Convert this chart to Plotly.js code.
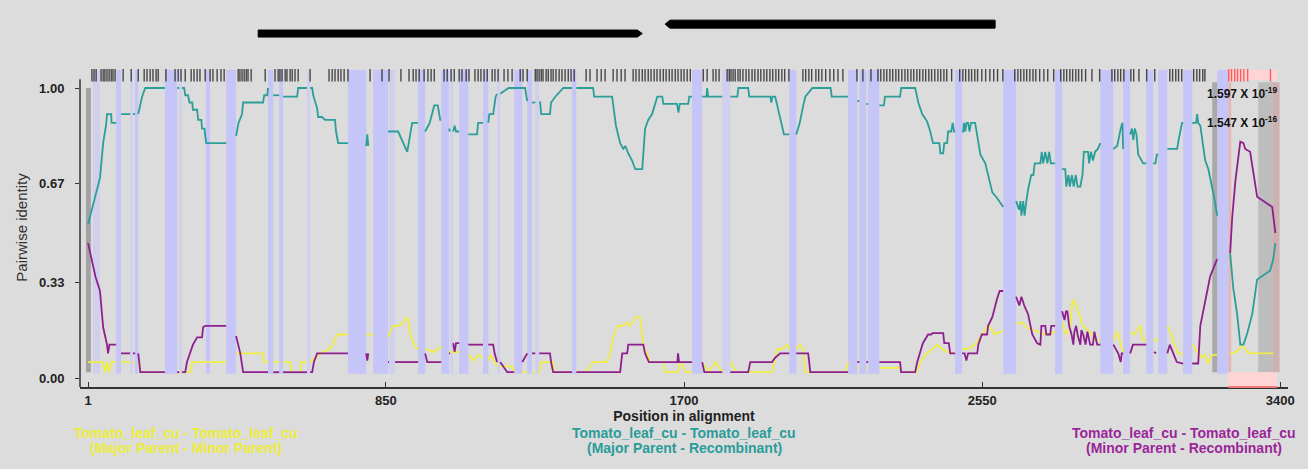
<!DOCTYPE html>
<html><head><meta charset="utf-8">
<script src="https://cdn.plot.ly/plotly-3.0.1.min.js"></script>
<style>html,body{margin:0;padding:0;background:#dcdcdc;} #chart{width:1308px;height:469px;}</style>
</head><body><div id="chart"></div>
<script>
// ---------- DATA ----------
const xTickVals = [1, 850, 1700, 2550, 3400];
const xTickText = ['1', '850', '1700', '2550', '3400'];
const yTickVals = [0, 0.33, 0.67, 1];
const yTickText = ['0.00', '0.33', '0.67', '1.00'];

const seriesNames = [
  'Tomato_leaf_cu - Tomato_leaf_cu (Major Parent - Minor Parent)',
  'Tomato_leaf_cu - Tomato_leaf_cu (Major Parent - Recombinant)',
  'Tomato_leaf_cu - Tomato_leaf_cu (Minor Parent - Recombinant)'
];

// Major Parent - Minor Parent (yellow)
const majorMinor = [[1,0.055],[44,0.055],[50,0.02],[55,0.055],[60,0.02],[67,0.055],[81,0.055],null,
[95,0.055],[121,0.055],null,[129,0.055],[135,0.055],null,[144,0.055],[150,0.02],[220,0.02],null,
[255,0.02],[261,0.02],null,[269,0.02],[292,0.02],[298,0.055],[395,0.055],null,
[423,0.085],[500,0.085],[503,0.055],[514,0.055],null,
[529,0.055],[546,0.055],null,[557,0.055],[577,0.055],[580,0.02],[605,0.02],[608,0.055],[625,0.055],null,[634,0.055],[663,0.085],[690,0.10],[700,0.12],[711,0.15],[742,0.15],null,
[794,0.15],[814,0.15],null,[856,0.14],[870,0.18],[885,0.18],[900,0.19],[911,0.21],[920,0.15],[932,0.11],[942,0.10],null,
[962,0.10],[985,0.09],[1000,0.10],[1008,0.11],null,
[1030,0.09],[1059,0.09],null,[1085,0.08],[1100,0.06],[1113,0.08],[1127,0.07],null,[1142,0.06],[1150,0.08],[1167,0.04],null,[1176,0.04],[1210,0.04],[1216,0.02],null,
[1239,0.02],[1253,0.02],null,[1267,0.02],[1276,0.02],null,[1287,0.02],[1293,0.055],[1327,0.055],[1330,0.02],[1381,0.02],null,
[1393,0.02],[1420,0.02],[1441,0.055],[1480,0.055],[1489,0.085],[1498,0.14],[1509,0.18],[1524,0.18],[1538,0.19],[1546,0.18],[1561,0.21],[1575,0.21],[1584,0.11],[1595,0.085],[1604,0.055],[1641,0.055],[1644,0.02],[1681,0.02],[1690,0.055],[1705,0.02],[1723,0.02],null,
[1752,0.055],[1770,0.02],[1790,0.055],[1809,0.02],null,[1832,0.055],[1850,0.02],[1951,0.02],[1965,0.10],[1980,0.10],[1994,0.115],[2000,0.10],null,
[2020,0.10],[2031,0.115],[2040,0.10],[2046,0.02],[2160,0.02],[2168,0.055],null,
[2194,0.035],[2200,0.035],null,[2220,0.035],[2225,0.035],null,
[2257,0.035],[2316,0.035],[2319,0.02],[2364,0.02],[2373,0.055],[2393,0.085],[2408,0.10],[2422,0.115],[2436,0.10],[2450,0.09],[2473,0.085],null,
[2493,0.10],[2510,0.10],[2530,0.115],[2539,0.13],[2549,0.15],[2567,0.18],[2576,0.17],[2585,0.15],[2600,0.16],[2610,0.16],null,
[2647,0.19],[2665,0.19],[2673,0.18],[2690,0.165],[2710,0.16],[2730,0.15],[2758,0.16],null,
[2778,0.19],[2790,0.15],[2800,0.17],[2808,0.27],[2818,0.25],[2827,0.22],[2836,0.18],[2856,0.16],[2875,0.13],[2887,0.13],null,
[2924,0.13],[2935,0.16],[2940,0.14],[2952,0.09],null,[2972,0.16],[2985,0.15],[3000,0.18],[3010,0.13],[3018,0.13],null,[3038,0.13],[3052,0.13],null,[3078,0.18],[3090,0.15],[3105,0.09],[3123,0.08],null,
[3149,0.115],[3166,0.09],[3177,0.07],[3186,0.08],[3194,0.05],[3206,0.08],[3220,0.08],null,
[3257,0.085],[3275,0.09],[3292,0.115],[3306,0.09],[3320,0.085],[3380,0.085]];

// Major Parent - Recombinant (teal)
const majorRecomb = [[1,0.53],[27,0.66],[35,0.69],[44,0.81],[52,0.87],[55,0.91],[67,0.91],[68,0.88],[81,0.88],null,
[95,0.91],[121,0.91],null,[129,0.91],[135,0.91],null,[144,0.91],[149,0.935],[155,0.97],[164,1.0],[220,1.0],null,
[255,1.0],[261,1.0],null,[269,1.0],[275,1.0],[278,0.975],[286,0.975],[290,0.95],[298,0.95],[300,0.925],[312,0.925],[315,0.89],[324,0.89],[326,0.86],[333,0.86],[335,0.835],[338,0.81],[395,0.81],null,
[423,0.835],[430,0.88],[440,0.91],[443,0.95],[500,0.95],[503,0.975],[512,0.975],[514,1.0],null,
[529,0.975],[546,0.975],null,[557,0.97],[597,0.97],[600,1.0],[625,1.0],null,[634,1.0],[640,1.0],[643,0.975],[648,0.95],[654,0.93],[657,0.90],[668,0.90],[677,0.89],[705,0.89],[708,0.85],[714,0.81],[742,0.81],null,
[794,0.80],[797,0.84],[800,0.80],null,
[856,0.85],[885,0.85],[911,0.78],[925,0.88],[942,0.88],null,
[962,0.85],[975,0.88],[988,0.94],[998,0.94],[1005,0.89],[1008,0.89],null,
[1030,0.86],[1033,0.85],null,[1042,0.85],[1046,0.87],[1050,0.85],[1059,0.85],null,
[1085,0.84],[1110,0.84],[1113,0.88],[1127,0.88],null,[1142,0.88],[1145,0.91],[1156,0.91],[1163,0.97],[1167,0.98],null,[1176,0.98],[1200,1.0],[1247,1.0],[1253,0.955],null,[1267,0.95],[1276,0.95],null,[1287,0.95],[1290,0.95],[1293,0.91],[1318,0.91],[1321,0.95],[1333,0.97],[1356,1.0],[1381,1.0],null,
[1393,1.0],[1441,1.0],[1444,0.97],[1495,0.97],[1500,0.925],[1506,0.87],[1518,0.81],[1527,0.79],[1533,0.80],[1541,0.775],[1552,0.75],[1561,0.72],[1581,0.72],[1589,0.86],[1598,0.89],[1609,0.91],[1624,0.97],[1638,0.97],[1641,0.945],[1680,0.945],[1684,0.915],[1688,0.945],[1712,0.945],[1715,0.97],[1723,0.97],null,
[1752,0.97],[1764,0.97],[1766,1.0],[1769,0.97],[1809,0.97],null,[1832,0.97],[1852,0.97],[1855,1.0],[1883,1.0],[1886,0.97],[1946,0.97],[1949,0.95],[1952,0.97],[1960,0.97],[1968,0.925],[1975,0.89],[1985,0.84],[2000,0.84],null,
[2020,0.84],[2030,0.88],[2040,0.94],[2046,0.97],[2066,1.0],[2118,1.0],[2121,0.97],[2168,0.97],null,
[2194,0.955],[2200,0.955],null,[2220,0.945],[2225,0.945],null,
[2257,0.94],[2270,0.94],[2273,0.97],[2316,0.97],[2319,1.0],[2359,1.0],[2368,0.95],[2379,0.91],[2393,0.885],[2402,0.85],[2410,0.81],[2428,0.81],[2431,0.775],[2439,0.775],[2442,0.81],[2450,0.81],[2453,0.85],[2462,0.85],[2466,0.88],[2470,0.85],[2473,0.85],null,
[2493,0.85],[2496,0.85],[2498,0.88],[2502,0.85],[2505,0.88],[2510,0.88],[2514,0.85],[2518,0.88],[2530,0.88],[2536,0.83],[2545,0.77],[2559,0.74],[2567,0.70],[2579,0.64],[2593,0.62],[2610,0.59],null,
[2647,0.61],[2655,0.58],[2659,0.61],[2662,0.56],[2667,0.61],[2671,0.56],[2676,0.61],[2681,0.65],[2690,0.70],[2696,0.70],[2700,0.74],[2716,0.74],[2720,0.78],[2724,0.74],[2730,0.78],[2736,0.74],[2741,0.78],[2746,0.74],[2758,0.74],null,
[2778,0.72],[2787,0.72],[2790,0.66],[2796,0.70],[2800,0.66],[2806,0.70],[2811,0.66],[2817,0.70],[2822,0.66],[2830,0.66],[2836,0.70],[2840,0.78],[2852,0.78],[2855,0.74],[2860,0.78],[2866,0.75],[2872,0.78],[2880,0.79],[2887,0.81],null,
[2924,0.79],[2935,0.80],[2945,0.86],[2950,0.88],[2952,0.79],null,
[2972,0.84],[2977,0.86],[2981,0.82],[2985,0.86],[2990,0.84],[2995,0.77],[3000,0.76],[3009,0.74],[3018,0.74],null,
[3038,0.74],[3044,0.74],[3048,0.77],[3052,0.77],null,
[3078,0.79],[3106,0.79],[3110,0.82],[3120,0.88],[3123,0.88],null,
[3149,0.88],[3160,0.88],[3163,0.91],[3166,0.88],[3172,0.87],[3180,0.79],[3186,0.75],[3195,0.72],[3206,0.66],[3212,0.62],[3220,0.56],null,
[3257,0.43],[3266,0.31],[3277,0.22],[3286,0.115],[3295,0.115],[3306,0.155],[3320,0.22],[3329,0.29],[3334,0.34],[3371,0.37],[3380,0.41],[3386,0.465]];

// Minor Parent - Recombinant (purple)
const minorRecomb = [[1,0.465],[15,0.38],[22,0.35],[35,0.30],[44,0.175],[55,0.115],[58,0.085],[62,0.115],[81,0.115],null,
[95,0.085],[121,0.085],null,[129,0.085],[135,0.085],null,[144,0.085],[147,0.055],[150,0.02],[220,0.02],null,
[255,0.02],[261,0.02],null,[269,0.02],[278,0.02],[283,0.055],[292,0.085],[300,0.115],[312,0.14],[326,0.14],[329,0.175],[335,0.18],[395,0.18],null,
[423,0.145],[429,0.115],[435,0.085],[443,0.02],[514,0.02],null,
[529,0.02],[546,0.02],null,[557,0.02],[625,0.02],null,[634,0.02],[640,0.02],[645,0.055],[654,0.085],[742,0.085],null,
[794,0.085],[797,0.06],[800,0.085],null,
[856,0.055],[859,0.055],null,[876,0.055],[942,0.055],null,
[962,0.085],[968,0.055],[1008,0.055],null,
[1030,0.085],[1033,0.085],null,[1042,0.12],[1046,0.09],[1050,0.12],[1059,0.12],null,
[1085,0.115],[1127,0.115],null,[1142,0.115],[1156,0.115],[1160,0.085],[1167,0.055],null,[1176,0.055],[1196,0.02],[1216,0.02],null,
[1239,0.055],[1253,0.085],null,[1267,0.085],[1276,0.085],null,[1287,0.085],[1318,0.085],[1321,0.055],[1327,0.02],[1381,0.02],null,
[1393,0.02],[1518,0.02],[1521,0.055],[1524,0.085],[1538,0.085],[1541,0.115],[1584,0.115],[1589,0.085],[1600,0.055],[1681,0.055],[1683,0.085],[1686,0.055],[1723,0.055],null,
[1752,0.055],[1758,0.02],[1809,0.02],null,[1832,0.02],[1883,0.02],[1889,0.055],[1951,0.055],[1960,0.07],[1974,0.085],[2000,0.085],null,[2020,0.085],[2054,0.085],[2057,0.055],[2060,0.02],[2168,0.02],null,
[2194,0.055],[2200,0.055],null,[2220,0.055],[2225,0.055],null,
[2257,0.055],[2316,0.055],[2319,0.02],[2359,0.02],[2365,0.055],[2373,0.085],[2381,0.12],[2396,0.15],[2405,0.15],[2408,0.155],[2439,0.155],[2442,0.12],[2455,0.12],[2459,0.085],[2473,0.085],null,
[2493,0.085],[2500,0.085],[2505,0.06],[2510,0.085],[2536,0.085],[2539,0.115],[2549,0.15],[2564,0.15],[2567,0.18],[2579,0.21],[2593,0.275],[2600,0.30],[2610,0.30],null,
[2647,0.28],[2656,0.25],[2662,0.28],[2670,0.25],[2681,0.22],[2687,0.18],[2693,0.15],[2707,0.12],[2716,0.115],[2719,0.18],[2730,0.18],[2733,0.15],[2744,0.15],[2747,0.18],[2758,0.18],null,
[2778,0.23],[2785,0.20],[2789,0.23],[2793,0.23],[2798,0.18],[2805,0.15],[2810,0.115],[2813,0.16],[2818,0.18],[2822,0.15],[2830,0.115],[2833,0.165],[2838,0.15],[2845,0.115],[2850,0.16],[2858,0.115],[2866,0.115],[2870,0.16],[2878,0.115],[2887,0.115],null,
[2924,0.115],[2938,0.085],[2945,0.055],[2948,0.085],[2952,0.085],null,
[2972,0.085],[2980,0.115],[3018,0.115],null,
[3040,0.09],[3046,0.085],null,
[3078,0.085],[3085,0.115],[3095,0.085],[3105,0.055],[3123,0.05],null,
[3149,0.05],[3166,0.05],[3172,0.18],[3186,0.27],[3200,0.35],[3220,0.41],null,
[3257,0.43],[3263,0.555],[3272,0.68],[3280,0.76],[3286,0.815],[3295,0.81],[3300,0.79],[3314,0.78],[3334,0.625],[3377,0.59],[3386,0.50]];

// Highlighted (excluded) alignment regions
const bandStart = [15,81,121,135,220,261,337,395,514,546,625,742,814,859,942,1008,1033,1059,1127,1167,1216,1253,1276,1381,1723,1809,2000,2168,2200,2225,2473,2610,2758,2887,2952,3018,3052,3123,3220];
const bandEnd   = [35,95,129,144,255,269,349,423,529,557,634,794,856,876,962,1030,1042,1085,1142,1176,1239,1267,1287,1393,1752,1832,2020,2194,2220,2257,2493,2647,2778,2924,2972,3038,3078,3149,3252];
const bandFaint = [1,0,1,0,0,1,0,0,0,0,1,0,0,1,0,0,1,0,0,1,0,0,1,0,0,1,0,0,0,0,0,0,0,0,0,0,0,0,0];

// Informative sites (barcode)
const sitesOutside = [12,18,24,38,44,49,55,61,67,72,78,101,124,144,161,169,178,186,195,201,223,249,258,266,278,295,303,312,320,335,349,357,369,380,389,429,434,440,446,452,457,466,506,534,543,548,554,563,568,577,583,591,600,634,688,697,705,714,722,731,742,805,839,859,893,916,928,936,945,959,970,979,988,1016,1025,1036,1045,1059,1067,1079,1087,1104,1113,1121,1130,1139,1153,1161,1170,1187,1198,1210,1233,1241,1253,1276,1281,1287,1293,1298,1307,1313,1321,1327,1335,1344,1352,1361,1370,1378,1387,1421,1432,1452,1464,1475,1498,1509,1521,1532,1555,1563,1572,1581,1589,1598,1606,1615,1623,1632,1641,1649,1658,1666,1675,1683,1692,1700,1709,1718,1755,1766,1783,1791,1800,1823,1829,1834,1840,1846,1854,1860,1868,1877,1885,1894,1902,1911,1919,1928,1936,1945,1953,1962,1970,1979,1987,1999,2039,2047,2056,2064,2076,2084,2093,2104,2116,2127,2139,2153,2193,2210,2233,2253,2261,2270,2278,2287,2295,2304,2312,2321,2330,2338,2347,2355,2364,2372,2381,2389,2398,2406,2415,2424,2432,2441,2449,2463,2486,2495,2503,2512,2520,2529,2537,2549,2560,2572,2583,2594,2609,2643,2652,2660,2669,2677,2686,2695,2703,2714,2726,2737,2754,2774,2783,2791,2800,2808,2817,2825,2834,2845,2863,2885,2920,2928,2937,2945,2954,2974,2982,2997,3019,3042,3085,3093,3102,3110,3119,3153,3162,3170,3179,3185];
const sitesInside = [3253,3261,3270,3278,3287,3296,3307,3372];

// Recombination event
const eventStart = 3252, eventEnd = 3391;
const breakpointCols = [[-5, 9], [3206, 3220], [3337, 3377]];
const pValueLabels = ['1.597 X 10<sup>-19</sup>', '1.547 X 10<sup>-16</sup>'];
const pValueY = [0.983, 0.883];
const pValueX = 3185;

// Genome features (ORFs) above the plot
const orfStart = [486, 2587];
const orfEnd = [1581, 1646];

// ---------- BUILD ----------
function unpack(pairs) {
  const x = [], y = [];
  pairs.forEach(p => { if (p === null) { x.push(null); y.push(null); } else { x.push(p[0]); y.push(p[1]); } });
  return {x, y};
}
const colors = ['#eeee44', '#2b9e9a', '#8e1f8e'];
const seriesData = [majorMinor, majorRecomb, minorRecomb];
const traces = [];

traces.push({
  type: 'scatter', mode: 'markers', x: sitesOutside, y: sitesOutside.map(() => 1.044),
  marker: {symbol: 'line-ns-open', size: 9, color: 'rgba(35,35,35,0.8)', line: {width: 1.4, color: 'rgba(35,35,35,0.8)'}},
  hoverinfo: 'skip', showlegend: false
});
traces.push({
  type: 'scatter', mode: 'markers', x: sitesInside, y: sitesInside.map(() => 1.044),
  marker: {symbol: 'line-ns-open', size: 9, color: '#ff5c5c', line: {width: 1.4, color: '#ff5c5c'}},
  hoverinfo: 'skip', showlegend: false
});
[0, 2, 1].forEach(i => {
  const d = unpack(seriesData[i]);
  traces.push({type: 'scatter', mode: 'lines', x: d.x, y: d.y, name: seriesNames[i],
    line: {color: colors[i], width: 1.8}, connectgaps: false, showlegend: false});
});

const shapes = [];
for (let i = 0; i < bandStart.length; i++) {
  shapes.push({type: 'rect', layer: 'below', xref: 'x', yref: 'y', x0: bandStart[i], x1: bandEnd[i],
    y0: 0.015, y1: 1.062, line: {width: 0}, fillcolor: bandFaint[i] ? '#d0d0ee' : '#c5c5f7'});
}
const colFills = ['#a2a2a2', '#a9a9a9', '#bdbdbd'];
breakpointCols.forEach((c, i) => {
  shapes.push({type: 'rect', layer: 'below', xref: 'x', yref: 'y', x0: c[0], x1: c[1],
    y0: 0.02, y1: i === 0 ? 1.0 : 1.02, line: {width: 0}, fillcolor: colFills[i]});
});
shapes.push({type: 'rect', layer: 'below', xref: 'x', yref: 'y', x0: eventStart, x1: eventStart + 8, y0: 0.02, y1: 1.02, line: {width: 0}, fillcolor: '#e2b6b6'});
shapes.push({type: 'rect', layer: 'below', xref: 'x', yref: 'y', x0: 3377, x1: 3398, y0: 0.02, y1: 1.02, line: {width: 0}, fillcolor: '#cdb0b0'});
shapes.push({type: 'rect', layer: 'below', xref: 'x', yref: 'y', x0: eventStart, x1: eventEnd, y0: -0.031, y1: 0.02, line: {width: 0}, fillcolor: '#ffd4d4'});
shapes.push({type: 'rect', layer: 'below', xref: 'x', yref: 'y', x0: eventStart, x1: eventEnd, y0: 1.028, y1: 1.062, line: {width: 0}, fillcolor: '#ffd4d4'});
shapes.push({type: 'line', xref: 'x', yref: 'paper', x0: eventStart, x1: eventEnd, y0: 0, y1: 0, line: {color: '#f07a7a', width: 2}});
// y axis line (starts just above the 1.00 level as in the reference)
shapes.push({type: 'line', xref: 'paper', yref: 'y', x0: 0, x1: 0, y0: -0.031, y1: 1.03, line: {color: '#333', width: 1.5}});

// ORF arrows
const arrowLen = 14;
const orfY = [[1.097, 1.119], [1.125, 1.150]];
orfStart.forEach((s, i) => {
  const e = orfEnd[i];
  const dir = e > s ? 1 : -1;
  const b = e - dir * arrowLen;
  const [ya, yb] = orfY[i];
  const ym = (ya + yb) / 2;
  shapes.push({type: 'path', xref: 'x', yref: 'paper', fillcolor: '#000', line: {color: '#000', width: 1},
    path: `M ${s},${ya} L ${b},${ya} L ${e},${ym} L ${b},${yb} L ${s},${yb} Z`});
});

const annotations = [];
pValueLabels.forEach((t, i) => {
  annotations.push({xref: 'x', yref: 'y', x: pValueX, y: pValueY[i], xanchor: 'left', yanchor: 'middle',
    text: t, showarrow: false, font: {family: 'Liberation Sans, Arial', size: 12, color: '#111', weight: 'bold'}});
});
const legendLines = [
  ['Tomato_leaf_cu - Tomato_leaf_cu', '(Major Parent - Minor Parent)'],
  ['Tomato_leaf_cu - Tomato_leaf_cu', '(Major Parent - Recombinant)'],
  ['Tomato_leaf_cu - Tomato_leaf_cu', '(Minor Parent - Recombinant)']
];
const legendX = [0.088, 0.50, 0.914];
const legendColors = ['#ecec3a', '#2a9c9a', '#9a269a'];
legendLines.forEach((ls, i) => {
  ls.forEach((t, j) => {
    annotations.push({xref: 'paper', yref: 'paper', x: legendX[i], y: j === 0 ? -0.144 : -0.19,
      xanchor: 'center', yanchor: 'middle', text: t, showarrow: false,
      font: {family: 'Liberation Sans, Arial', size: 14, color: legendColors[i], weight: 'bold'}});
  });
});

const layout = {
  width: 1308, height: 469,
  margin: {l: 80, r: 20, t: 68, b: 82},
  paper_bgcolor: '#dcdcdc', plot_bgcolor: '#dcdcdc',
  showlegend: false,
  xaxis: {range: [-22, 3422], tickvals: xTickVals, ticktext: xTickText, showgrid: false, zeroline: false,
    showline: true, linecolor: '#333', linewidth: 2, ticks: 'inside', ticklen: 5, tickcolor: '#333',
    tickfont: {family: 'Liberation Sans, Arial', size: 13, color: '#222', weight: 'bold'},
    title: {text: 'Position in alignment', standoff: 1, font: {family: 'Liberation Sans, Arial', size: 14, color: '#222', weight: 'bold'}}},
  yaxis: {range: [-0.031, 1.069], tickvals: yTickVals, ticktext: yTickText, showgrid: false, zeroline: false,
    showline: false, ticks: 'outside', ticklen: 4, tickcolor: '#333',
    ticklabelstandoff: 8,
    tickfont: {family: 'Liberation Sans, Arial', size: 13, color: '#222', weight: 'bold'},
    title: {text: 'Pairwise identity', standoff: 7, font: {family: 'Liberation Sans, Arial', size: 15, color: '#333'}}},
  shapes: shapes,
  annotations: annotations
};
Plotly.newPlot('chart', traces, layout, {staticPlot: true, displayModeBar: false});
</script></body></html>
